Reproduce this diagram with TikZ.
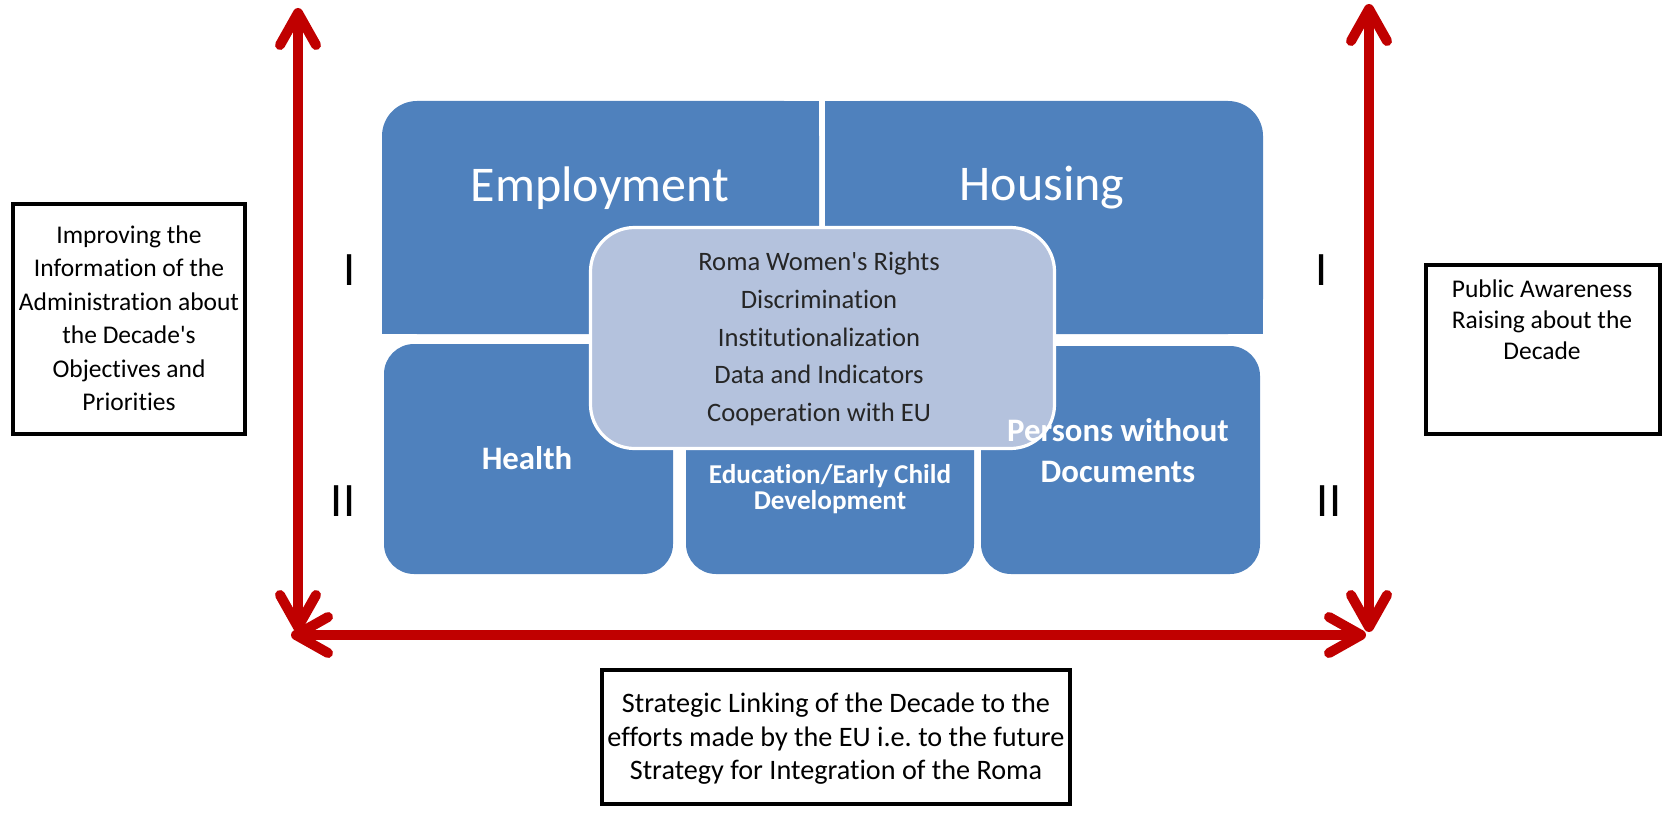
\documentclass[tikz,border=0pt]{standalone}
\usepackage{fontspec}
\setmainfont{Carlito}[Ligatures={NoCommon}]
\usetikzlibrary{arrows.meta}
\definecolor{blockblue}{HTML}{4F81BD}
\definecolor{centerfill}{HTML}{B4C2DD}
\definecolor{arrowred}{HTML}{C00000}
\definecolor{centertext}{HTML}{262626}
\frenchspacing
\begin{document}
\begin{tikzpicture}[x=0.5pt,y=-0.5pt,
  blk/.style={fill=blockblue},
  frame/.style={draw=black, line width=2pt, inner sep=0pt, fill=white},
  boxtext/.style={align=center, inner sep=0pt, text=black, font=\fontsize{12.75}{16.75}\selectfont},
  bigtitle/.style={inner sep=0pt, text=white, font=\fontsize{25}{30}\selectfont},
  boldtitle/.style={inner sep=0pt, text=white, align=center, font=\bfseries\fontsize{16.4}{20.5}\selectfont},
  smalltitle/.style={inner sep=0pt, text=white, align=center, font=\bfseries\fontsize{13.6}{13.4}\selectfont},
  centerlist/.style={inner sep=0pt, text=centertext, align=center, font=\fontsize{13.3}{18.85}\selectfont},
  numeral/.style={inner sep=0pt, text=black, font=\fontsize{24}{28}\selectfont},
  redarrow/.style={draw=arrowred, line width=5pt, >={Straight Barb[length=16pt,width=18pt,round]}, <->}
]
\useasboundingbox (0,0) rectangle (1664,813);

% top blocks
\fill[blk, rounded corners=17.5pt] (382,101) rectangle (819,334);
\fill[blk] (382,200) rectangle (819,334);
\fill[blk] (600,101) rectangle (819,334);
\fill[blk, rounded corners=17.5pt] (825,101) rectangle (1263,334);
\fill[blk] (825,200) rectangle (1263,334);
\fill[blk] (825,101) rectangle (1100,334);
% bottom blocks
\fill[blk, rounded corners=15pt] (384,344) rectangle (673,574);
\fill[blk, rounded corners=15pt] (686,344) rectangle (974,574);
\fill[blk, rounded corners=15pt] (981,346) rectangle (1260,574);

% block labels
\node[bigtitle] (emp) at (600,188) {Employment};
\node[bigtitle] (hou) at (1042,188) {Housing};
\node[boldtitle] (hea) at (527,458) {Health};
\node[smalltitle] (edu) at (830,489) {Education/Early Child\\Development};

% centre box
\node[draw=white, line width=1.6pt, fill=centerfill, rounded corners=22pt,
      minimum width=232pt, minimum height=110.5pt, inner sep=0pt] (cbox) at (822.5,338) {};
\node[centerlist] (clist) at (819,339) {Roma Women\textquotesingle s Rights\\Discrimination\\Institutionalization\\Data and Indicators\\Cooperation with EU};

\node[boldtitle] (per) at (1118,451) {Persons without\\Documents};

% numerals
\node[numeral] (n1l) at (350,270) {I};
\node[numeral] (n2l) at (343,501) {II};
\node[numeral] (n1r) at (1322,270) {I};
\node[numeral] (n2r) at (1329,501) {II};

% side boxes
\node[frame, minimum width=116pt, minimum height=115pt] (lbox) at (129,319) {};
\node[boxtext] (ltext) at (129,318) {Improving the\\Information of the\\Administration about\\the Decade\textquotesingle s\\Objectives and\\Priorities};
\node[frame, minimum width=117pt, minimum height=84.5pt] (rbox) at (1543,349.5) {};
\node[boxtext, font=\fontsize{12.75}{15.4}\selectfont] (rtext) at (1542,320) {Public Awareness\\Raising about the\\Decade};
\node[frame, minimum width=234pt, minimum height=67pt] (bbox) at (836,737) {};
\node[boxtext, font=\fontsize{14.1}{16.75}\selectfont] (btext) at (836,739) {Strategic Linking of the Decade to the\\efforts made by the EU i.e. to the future\\Strategy for Integration of the Roma};

% arrows
\coordinate (lt) at (298,8);
\coordinate (lb) at (298,632);
\coordinate (rt) at (1369,4);
\coordinate (rb) at (1369,632);
\coordinate (hl) at (291,635);
\coordinate (hr) at (1366,635);
\draw[redarrow] (lt) -- (lb);
\draw[redarrow] (rt) -- (rb);
\draw[redarrow] (hl) -- (hr);
\end{tikzpicture}
\end{document}
